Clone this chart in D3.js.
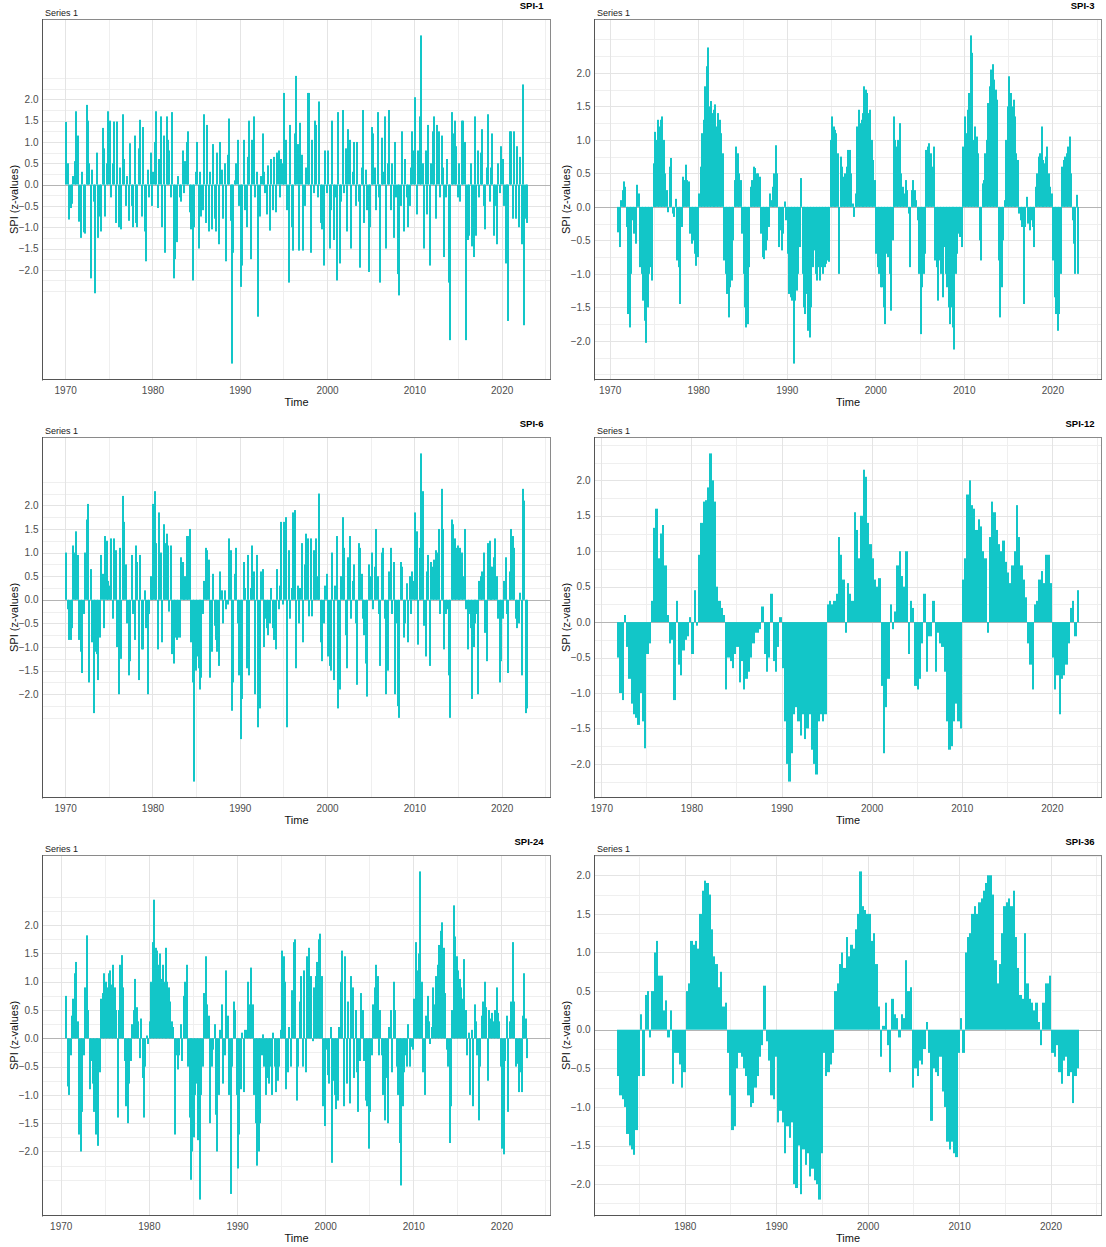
<!DOCTYPE html>
<html>
<head>
<meta charset="utf-8">
<script src="https://cdnjs.cloudflare.com/ajax/libs/d3/7.8.5/d3.min.js"></script>
<style>
  body { margin: 0; background: #fff; }
  svg text { font-family: "Liberation Sans", Arial, sans-serif; }
</style>
</head>
<body>
<div id="chart"></div>
<script>
const seriesLabel = "Series 1";
const xTitle = "Time";
const yTitle = "SPI (z-values)";
const yTickValues = [-2, -1.5, -1, -0.5, 0, 0.5, 1, 1.5, 2];
const xTickValues = [1970, 1980, 1990, 2000, 2010, 2020];

// SPI-1, two-month steps from Jan 1970
const spi1Start = 1970;
const spi1PerYear = 6;
const spi1Values = [
  1.47, 0.5, -0.82, -0.55, -0.45, 0.2,
  0.55, 1.72, 1.15, -0.87, -1.25, 0.3,
  -1.12, -1.15, 1.87, 1.5, 0.5, -2.2,
  0.35, -0.4, -2.55, 0.75, -1.25, -0.75,
  -1.1, 1.33, 0.85, -0.75, 0.5, 1.72,
  1.5, -0.3, 0.5, 1.48, -0.9, 1.48,
  -1.0, 0.4, -1.05, 1.65, 0.6, -0.5,
  0.2, -0.85, 0.97, -0.5, -1.0, 1.15,
  -0.9, -1.0, 0.85, 1.52, -0.75, 1.35,
  -1.1, -1.8, 0.35, -0.3, 0.75, -0.5,
  0.3, 1.0, 1.72, -0.55, 0.6, 1.6,
  -1.0, 1.15, -1.6, 1.6, 1.05, 0.8,
  -0.3, 1.7, -2.2, -1.75, -1.35, 0.2,
  -0.3, -0.4, 0.8, -0.2, 0.55, 1.0,
  1.25, -0.65, -1.05, -2.25, -1.0, 0.3,
  1.0, -1.5, 0.3, -0.75, -0.6, 1.65,
  -0.9, 1.4, -1.1, 0.3, -1.05, 0.95,
  -0.8, -1.1, 0.75, -1.4, 1.0, 0.35,
  -0.8, 0.5, -1.8, 0.7, 1.55, -0.85,
  -4.2, -1.6, 0.1, 0.5, 1.05, -0.5,
  -2.4, -1.9, 1.05, -0.6, -1.0, 0.65,
  1.5, -1.75, 1.05, 1.6, -0.3, 0.3,
  -3.1, -0.75, 0.2, 1.2, 0.3, -0.2,
  -0.7, 0.45, -1.08, 0.6, -0.6, 0.65,
  -0.65, 0.75, 0.8, -0.3, 0.6, 0.5,
  2.15, 1.05, -0.6, -2.3, 1.4, -1.0,
  -1.55, 1.2, 2.55, 0.95, -1.55, 1.45,
  0.7, -1.55, -0.5, 0.4, 2.15, 2.15,
  -1.6, 1.05, -0.2, 1.5, 1.4, -0.3,
  1.95, -0.9, -1.05, -1.9, 0.8, -0.2,
  0.8, -1.5, -0.6, 1.5, -1.3, -0.3,
  -2.25, 1.7, -1.85, -0.4, 1.75, -0.2,
  0.85, -1.1, 1.3, 1.05, -1.5, 0.3,
  1.0, -0.5, 1.0, -0.4, -1.95, 0.4,
  1.75, -0.9, 0.35, -0.6, -2.05, -1.0,
  1.35, 1.2, 0.4, -0.6, 1.7, -0.3,
  -2.3, 1.1, 0.3, 1.6, -1.5, 0.5,
  1.75, -0.6, 0.5, -1.25, 1.0, -0.3,
  -2.1, -2.6, -0.5, 1.25, -1.1, 0.6,
  -0.3, -1.0, -0.5, 0.4, 1.25, 0.8,
  2.05, -0.7, 0.8, 1.6, 3.5, 0.5,
  -1.5, 0.8, -0.7, 1.4, -1.9, 0.5,
  1.25, 1.6, -0.8, 1.4, 1.25, -0.3,
  1.15, 0.4, -1.7, -0.3, 0.6, -2.3,
  -3.65, 1.7, 1.2, 1.5, 0.9, -0.3,
  0.5, -0.4, 1.5, 1.5, 1.0, -3.65,
  -1.3, -1.2, 0.5, -1.45, -1.7, 1.6,
  -1.2, 0.8, -0.3, 0.75, 1.3, -0.5,
  -1.05, 0.4, 1.65, -0.4, 0.4, 1.2,
  -1.2, -0.5, -1.4, 0.5, -0.2, 0.9,
  0.6, -0.5, -1.85, -0.6, -3.2, 1.25,
  1.25, -0.8, 1.25, -0.8, 0.9, -1.0,
  0.65, -1.4, 2.35, -3.3, -0.8, -0.9
];

// SPI-3, two-month steps from Nov 1970
const spi3Start = 1970 + 10 / 12;
const spi3PerYear = 6;
const spi3Values = [
  -0.38,
  -0.6, 0.1, 0.25, 0.38, 0.3, -0.3,
  -1.6, -1.8, -1.0, -0.2, -0.4, -0.55,
  0.33, 0.2, -0.9, -1.0, -1.4, -1.7,
  -2.03, -1.5, -1.0, -0.9, -1.1, 0.65,
  1.12, 1.0, 1.3, 1.2, 1.3, 1.35,
  1.0, 0.5, 0.25, -0.08, 0.6, 0.73,
  -0.1, -0.15, 0.12, -0.8, -0.9, -1.45,
  -0.3, 0.45, 0.4, 0.63, 0.4, 0.38,
  -0.4, -0.55, -0.5, -0.7, -0.88, -0.75,
  0.2, 0.6, 1.1, 1.3, 1.8, 2.1,
  2.38, 1.5, 1.58, 1.4, 1.45, 1.53,
  1.2, 1.4, 1.3, 1.1, 0.8, -0.8,
  -1.0, -1.3, -1.65, -1.2, -1.1, -0.5,
  0.4, 0.9, 0.8, 0.5, 0.4, -0.4,
  -1.0, -1.5, -1.8, -1.75, -0.9, 0.3,
  0.4, 0.6, 0.58, 0.5, 0.5, 0.45,
  -0.4, -0.75, -0.78, -0.65, -0.5, -0.3,
  0.2, 0.1, 0.3, 0.5, 0.92, 0.5,
  -0.6, -0.35, -0.65, -0.4, 0.08, -0.2,
  -0.7, -1.3, -1.35, -1.4, -2.34, -1.4,
  -1.25, -1.0, -0.6, 0.43, -1.0, -1.5,
  -1.6, -1.3, -1.85, -1.95, -1.5, -0.9,
  -0.65, -1.0, -1.1, -0.9, -1.1, -0.9,
  -1.0, -0.9, -0.85, -0.8, -0.82, 1.0,
  1.35, 1.2, 1.15, 1.1, 0.8, -1.0,
  0.75, 0.6, 0.45, 0.5, 0.6, 0.85,
  0.85, 0.5, 0.05, -0.15, 0.2, 1.2,
  1.45, 1.25, 1.3, 1.4, 1.8, 1.75,
  1.7, 1.4, 1.45, 1.0, 0.7, 0.4,
  -0.7, -0.9, -1.0, -1.2, -1.2, -1.5,
  -1.75, -0.7, -0.75, -1.0, -1.55, -0.5,
  1.35, 1.0, 0.9, 1.0, 1.25, 0.5,
  0.3, 0.2, 0.4, 0.25, -0.1, -0.9,
  0.25, 0.4, 0.25, 0.1, -0.2, -1.0,
  -1.9, -1.2, -1.0, -0.7, 0.85, 0.9,
  0.95, 0.8, 0.6, 0.9, -0.8, -0.9,
  -1.4, -0.8, -1.0, -1.35, -0.6, -1.0,
  -1.2, -1.5, -1.75, -1.5, -1.8, -2.13,
  -1.0, -0.7, -0.4, -0.45, -0.6, 0.9,
  1.35, 1.1, 1.45, 1.7, 2.56, 2.3,
  1.0, 1.2, 1.05, 0.8, -0.5, -0.8,
  0.35, 0.4, 0.8, 1.0, 1.55, 1.8,
  2.05, 2.13, 1.9, 1.75, 1.6, -0.8,
  -1.65, -1.2, -0.5, 0.1, 1.0, 1.5,
  1.95, 1.7, 1.5, 1.6, 1.35, 0.8,
  0.7, -0.1, -0.2, -0.3, -1.45, -0.3,
  0.15, -0.25, -0.35, -0.2, -0.3, -0.6,
  0.3, 0.5, 0.75, 0.8, 1.2, 0.7,
  0.65, 0.75, 0.9, 0.5, 0.3, 0.2,
  -0.8, -1.35, -1.6, -1.85, -1.6, -1.0,
  0.6, 0.7, 0.75, 0.8, 0.9, 1.05,
  0.5, -0.2, -0.55, -1.0, 0.18, -1.0
];

// SPI-6, two-month steps from Jan 1970
const spi6Start = 1970;
const spi6PerYear = 6;
const spi6Values = [
  1.0, -0.2, -0.85, -0.85, -0.6, 1.15,
  1.0, 1.45, 0.95, -0.85, -1.1, -1.55,
  -0.3, 1.0, 1.7, 2.03, -1.75, 0.65,
  -0.9, -2.4, -1.1, -1.15, -1.7, -0.8,
  0.95, 0.55, -0.6, 1.35, 1.25, 0.4,
  0.3, 1.3, -0.4, 1.3, 1.05, -1.0,
  -2.0, 1.1, -1.25, 2.2, 1.65, 0.75,
  -0.5, -1.6, -1.3, 0.95, -0.3, -0.85,
  1.15, 0.8, -1.7, 0.95, -1.05, -1.05,
  0.2, -0.6, -2.0, -0.3, 0.5, 0.25,
  2.03, 2.3, 1.2, -1.05, 1.85, 1.0,
  -0.9, 1.6, 1.2, 1.4, 1.15, -0.25,
  1.15, -1.15, -1.35, -0.8, -0.85, -0.8,
  -0.8, 0.9, 0.8, 0.1, 0.5, 1.35,
  1.35, 1.5, -0.9, -1.75, -3.85, -1.5,
  -1.2, -1.45, -1.9, -1.65, -0.3, 0.4,
  1.1, 1.05, 0.85, -1.65, -1.1, 0.55,
  -0.55, -0.85, -1.1, -1.4, 0.6, 0.2,
  -0.5, 0.2, -0.2, -0.1, 1.3, 1.05,
  -2.35, -1.75, 0.55, 1.1, -0.5, -1.6,
  -2.95, -2.1, 0.8, 0.25, -1.45, 0.95,
  -1.6, 0.25, 1.15, 0.6, -2.0, 0.95,
  -2.7, -2.3, 0.6, 0.65, -1.0, -0.4,
  -0.6, -0.75, -0.5, 0.25, -0.6, -0.85,
  -1.05, 0.65, -0.2, 0.3, 1.65, -0.1,
  1.65, 1.75, -2.7, 1.05, -0.4, 0.25,
  1.85, 1.9, -1.45, 0.3, -0.5, 0.25,
  1.2, -0.9, 0.75, 1.4, 1.3, -0.35,
  1.3, -0.35, 1.05, 0.9, 1.3, 0.5,
  2.25, -0.9, -1.3, -0.5, 0.3, 0.55,
  -1.2, -1.4, -1.5, 1.0, -1.7, 0.3,
  1.35, -2.3, -1.9, 0.5, 1.75, 1.1,
  -0.75, -1.45, 0.9, 1.35, -0.4, 0.4,
  0.75, -0.5, -1.8, 1.2, 1.1, 0.55,
  -0.4, -0.75, -1.35, -2.05, 0.75, 0.5,
  1.0, -0.2, 0.7, 1.5, 0.5, -0.3,
  -1.4, 1.0, 1.1, -0.4, -2.0, -1.5,
  0.6, 1.1, -0.3, 0.8, -2.0, -0.5,
  -2.25, -2.5, 0.8, 0.7, -0.8, -0.5,
  0.35, -0.9, 0.5, -0.3, 0.6, 0.4,
  1.85, 1.45, -0.95, 1.1, 3.1, 2.3,
  -0.55, -1.2, 0.6, 0.95, -1.4, 0.8,
  0.7, 0.85, 1.05, 1.0, 1.5, -0.3,
  2.35, 1.5, -1.05, -0.3, -0.2, -1.6,
  -2.5, 1.7, 1.6, 1.3, 1.1, 1.15,
  1.0, 1.1, 1.0, 0.5, 1.5, -0.2,
  -1.05, -0.3, -0.6, -2.1, -1.0, -0.5,
  -0.3, -2.0, 0.4, 0.5, 0.6, 1.0,
  -0.7, -1.3, 1.2, 1.25, 0.7, 0.7,
  0.9, 1.3, 0.5, -0.4, -1.75, -1.3,
  -0.4, 0.4, 0.9, -0.3, -1.55, 0.6,
  1.5, 1.35, 1.1, -0.4, -0.6, -0.5,
  0.15, -1.6, 2.35, 2.1, -2.4, -2.3
];

// SPI-12, quarterly steps from Oct 1971
const spi12Start = 1971.75;
const spi12PerYear = 4;
const spi12Values = [
  -0.5,
  -1.0, -1.1, 0.1, -0.35,
  -0.8, -1.15, -1.3, -1.35,
  -1.45, -1.0, -1.4, -1.78,
  -0.45, -0.3, 0.3, 1.33,
  1.6, 0.9, 1.25, 1.37,
  0.8, 0.1, -0.3, -0.25,
  -1.1, 0.3, -0.6, -0.75,
  -0.4, -0.25, -0.2, 0.07,
  -0.45, 0.45, -0.05, 0.95,
  1.4, 1.7, 1.72, 1.9,
  2.38, 2.0, 1.7, 0.5,
  0.3, 0.2, 0.1, -0.95,
  -0.5, -0.55, -0.65, -0.45,
  -0.35, -0.85, -0.55, -0.95,
  -0.8, -0.7, -0.5, -0.3,
  -0.15, -0.15, -0.1, 0.22,
  -0.45, -0.7, -0.5, 0.4,
  -0.55, -0.7, -0.35, 0.07,
  -0.65, -1.4, -2.0, -2.25,
  -1.85, -1.3, -1.2, -1.4,
  -1.6, -1.3, -1.65, -1.5,
  -1.3, -1.8, -2.0, -2.15,
  -1.4, -1.3, -1.4, -1.3,
  0.25, 0.3, 0.25, 0.3,
  0.4, 1.2, 0.95, 0.6,
  -0.15, 0.55, 0.4, 0.3,
  1.55, 1.3, 0.9, 1.5,
  2.15, 2.05, 1.4, 1.1,
  0.9, 0.6, 0.5, 0.62,
  -0.9, -1.85, -1.2, -0.8,
  0.25, -0.1, 0.15, 0.8,
  1.0, 0.65, 0.5, 1.0,
  -0.45, 0.3, 0.2, -0.9,
  -0.95, -0.8, -0.3, 0.4,
  -0.7, -0.2, -0.2, 0.3,
  -0.7, -0.15, -0.3, -0.35,
  -0.7, -1.4, -1.8, -1.75,
  -1.4, -1.15, -1.4, -1.5,
  0.6, 0.9, 1.8, 2.0,
  1.65, 1.6, 1.3, 1.45,
  1.35, 1.0, 0.9, -0.15,
  1.2, 1.7, 1.55, 1.3,
  1.1, 1.0, 1.15, 0.85,
  0.7, 0.55, 0.8, 1.0,
  1.65, 1.2, 0.8, 0.6,
  0.35, -0.3, -0.6, -0.95,
  0.25, 0.3, 0.6, 0.72,
  0.55, 0.95, 0.95, 0.55,
  -0.5, -0.95, -0.75, -1.3,
  -0.8, -0.75, -0.6, -0.3,
  0.2, 0.3, -0.2, 0.45
];

// SPI-24, two-month steps from Jul 1970
const spi24Start = 1970.5;
const spi24PerYear = 6;
const spi24Values = [
  0.75, -0.85, -1.0,
  -0.3, 0.4, 0.7, 1.15, 1.35, 0.3,
  -1.7, -2.0, -1.3, -0.3, 0.9, 1.82,
  0.5, -0.9, -0.4, -0.8, -1.3, -1.7,
  -1.5, -1.9, -0.6, 0.7, 0.8, 1.15,
  1.0, 0.9, 1.15, 1.2, 0.95, 1.3,
  0.9, 0.5, -1.4, 0.5, 1.3, 1.47,
  0.9, -0.4, -1.2, -1.5, -0.8, -0.4,
  0.25, 0.5, 1.05, 0.55, 0.3, -0.35,
  0.35, -0.7, -1.4, -0.5, 0.05, -0.1,
  0.3, 1.0, 1.7, 2.45, 1.6, 1.55,
  1.3, 1.5, 1.05, 1.3, 1.0, 1.6,
  1.0, 0.9, 0.65, 0.3, 0.2, -1.7,
  -0.3, -0.55, -0.3, 0.25, -0.4, 0.75,
  1.0, 1.3, -0.5, -1.4, -2.5, -2.0,
  -1.75, -1.0, -0.8, -1.8, -2.85, -1.0,
  -0.5, 0.8, 1.45, 0.6, 0.4, -1.5,
  -0.5, -0.2, 0.25, -1.35, -2.0, -1.0,
  0.15, 0.6, -0.8, -0.3, 1.2, 0.4,
  -1.0, -2.75, -0.5, 0.65, 0.5, -1.0,
  -2.3, -1.7, -0.9, 0.1, -0.95, 0.15,
  0.15, 1.0, 0.6, 1.25, 0.6, -1.0,
  -1.5, -2.25, -2.0, -1.5, -0.3, 0.07,
  -0.5, -1.0, -0.7, -0.8, -0.5, -1.0,
  0.1, -0.5, -0.95, -0.75, -0.5, 0.15,
  1.55, 1.45, 1.0, -0.9, -0.6, 0.2,
  -0.5, 0.85, 1.7, 1.75, -1.1, -0.5,
  0.65, 1.1, -0.5, 1.2, -0.6, 1.45,
  1.6, 0.9, 1.1, -0.05, 0.9, 1.1,
  1.35, 1.75, 1.85, 1.1, -1.2, -1.55,
  -0.2, -0.65, -0.8, 0.2, -2.2, -0.75,
  -1.0, -1.25, -1.1, 0.2, 1.0, 1.55,
  -1.2, 1.45, -0.8, 0.65, -1.15, 1.1,
  0.9, -0.7, 0.5, -0.6, -1.3, -0.4,
  0.8, 0.5, -0.4, -1.1, -1.2, -1.95,
  -1.3, -0.3, 0.6, 0.9, 1.3, 1.1,
  -0.3, 0.5, -0.3, -1.0, -1.45, -0.7,
  -1.5, 0.2, 0.5, -0.6, 1.0, 0.5,
  -0.5, -1.0, -1.85, -2.6, -1.2, -0.6,
  -0.3, -0.5, 0.25, -0.5, -0.15, -0.2,
  0.7, 1.7, 1.2, 1.5, 2.95, 1.0,
  -0.6, -1.0, 0.4, 0.75, 0.3, -0.1,
  0.2, 0.9, 0.6, 1.1, 1.3, 1.65,
  1.9, 2.05, 1.6, 0.8, -0.2, -0.5,
  -1.85, -1.2, 0.5, 2.35, 1.8, 1.45,
  1.2, 1.05, 0.9, 0.7, 1.4, 0.5,
  -0.3, 0.1, -1.0, 0.15, -1.2, 0.6,
  0.3, -0.3, -1.45, -0.5, 0.4, 0.65,
  1.0, 0.55, -0.75, 0.5, 0.35, 0.45,
  0.3, 0.5, 0.9, 0.45, 0.3, -0.5,
  -1.95, -2.05, -0.4, 0.4, -1.3, 0.3,
  0.65, 1.7, 0.65, -0.5, -0.45, -0.95,
  -0.6, -0.95, 0.4, 1.15, 0.35, -0.35
];

// SPI-36, quarterly steps from Aug 1972
const spi36Start = 1972.6;
const spi36PerYear = 4;
const spi36Values = [
  -0.6, -0.85,
  -0.9, -1.0, -1.35, -1.5,
  -1.55, -1.62, -1.3, -0.6,
  0.2, -0.6, 0.45, 0.5,
  -0.1, 0.5, 1.0, 1.15,
  0.7, 0.7, 0.25, 0.38,
  -0.1, 0.25, -0.7, -0.3,
  -0.3, -0.45, -0.75, -0.55,
  0.5, 0.6, 1.15, 1.1,
  1.15, 1.05, 1.5, 1.8,
  1.93, 1.9, 1.75, 1.3,
  0.95, 0.85, 0.55, 0.75,
  0.3, 0.35, -0.3, -0.85,
  -1.3, -1.25, -0.5, -0.3,
  -0.35, -0.5, -0.6, -0.85,
  -1.0, -0.95, -0.75, -0.6,
  -0.35, -0.2, 0.57, -0.15,
  -0.4, -0.85, -0.9, -0.35,
  -1.2, -1.05, -1.2, -1.6,
  -1.25, -1.4, -1.2, -2.0,
  -2.05, -1.5, -2.13, -1.55,
  -1.75, -1.6, -1.9, -1.8,
  -1.95, -2.0, -2.2, -1.6,
  -0.3, -0.6, -0.55, -0.45,
  -0.3, 0.5, 0.6, 0.85,
  1.0, 0.8, 1.2, 0.95,
  1.1, 1.05, 1.3, 1.5,
  2.05, 1.6, 1.55, 1.5,
  1.5, 1.15, 1.25, 0.85,
  0.3, -0.35, 0.05, 0.35,
  -0.2, -0.55, 0.4, 0.2,
  0.15, -0.1, 0.2, 0.15,
  0.9, 0.5, 0.55, -0.75,
  -0.5, -0.6, -0.4, -0.45,
  -0.25, 0.1, -0.3, -1.18,
  -0.5, -0.55, -0.6, -0.35,
  -0.8, -1.0, -1.45, -1.55,
  -1.45, -1.6, -1.65, -0.3,
  0.15, -0.3, 1.0, 1.2,
  1.25, 1.5, 1.6, 1.5,
  1.65, 1.7, 1.8, 1.9,
  2.0, 2.0, 1.75, 0.9,
  0.6, 0.85, 1.25, 1.6,
  1.65, 1.7, 1.6, 1.8,
  1.2, 0.8, 0.45, 0.4,
  1.25, 0.6, 0.4, 0.35,
  0.25, 0.35, 0.1, -0.2,
  0.35, 0.6, 0.6, 0.7,
  -0.3, -0.35, -0.2, -0.55,
  -0.7, -0.4, -0.35, -0.6,
  -0.55, -0.95, -0.6, -0.5
];

var panels = [
  { name: "SPI-1", start: spi1Start, perYear: spi1PerYear, values: spi1Values, left: 42, top: 19, width: 509 },
  { name: "SPI-3", start: spi3Start, perYear: spi3PerYear, values: spi3Values, left: 594, top: 19, width: 508 },
  { name: "SPI-6", start: spi6Start, perYear: spi6PerYear, values: spi6Values, left: 42, top: 437, width: 509 },
  { name: "SPI-12", start: spi12Start, perYear: spi12PerYear, values: spi12Values, left: 594, top: 437, width: 508 },
  { name: "SPI-24", start: spi24Start, perYear: spi24PerYear, values: spi24Values, left: 42, top: 855, width: 509 },
  { name: "SPI-36", start: spi36Start, perYear: spi36PerYear, values: spi36Values, left: 594, top: 855, width: 508 }
];

var panelHeight = 361;
var barColor = "#12c6c8";

function charts() {
  var svg = d3
    .select("#chart")
    .append("svg")
    .attr("width", 1106)
    .attr("height", 1247);

  svg.append("rect").attr("width", 1106).attr("height", 1247).attr("fill", "#fff");

  panels.forEach(function (p) {
    drawPanel(svg, p);
  });
}

function drawPanel(svg, p) {
  var height = panelHeight;
  var step = 1 / p.perYear;
  var bars = p.values.map((v, i) => ({ t: p.start + i * step, v: v }));

  var tMin = p.start,
    tMax = p.start + p.values.length * step;
  var tPad = (tMax - tMin) * 0.05;
  var vMin = d3.min(p.values),
    vMax = d3.max(p.values);
  var vPad = (vMax - vMin) * 0.05;

  var x = d3.scaleLinear().domain([tMin - tPad, tMax + tPad]).range([0, p.width]);
  var y = d3.scaleLinear().domain([vMin - vPad, vMax + vPad]).range([height, 0]);

  var g = svg.append("g").attr("transform", "translate(" + p.left + "," + p.top + ")");

  var inX = (d) => d >= x.domain()[0] && d <= x.domain()[1];
  var inY = (d) => d >= y.domain()[0] && d <= y.domain()[1];

  var xMajor = xTickValues.filter(inX);
  var xMinor = d3.range(1960, 2031, 5).filter((d) => xTickValues.indexOf(d) < 0).filter(inX);
  var yMinor = d3.range(-10, 11).map((d) => d / 4).filter((d) => yTickValues.indexOf(d) < 0).filter(inY);

  // grid lines
  g.selectAll("line.xminor")
    .data(xMinor)
    .enter()
    .append("line")
    .attr("x1", (d) => Math.round(x(d)) + 0.5)
    .attr("x2", (d) => Math.round(x(d)) + 0.5)
    .attr("y1", 0)
    .attr("y2", height)
    .attr("stroke", "#efefef");

  g.selectAll("line.yminor")
    .data(yMinor)
    .enter()
    .append("line")
    .attr("x1", 0)
    .attr("x2", p.width)
    .attr("y1", (d) => Math.round(y(d)) + 0.5)
    .attr("y2", (d) => Math.round(y(d)) + 0.5)
    .attr("stroke", "#efefef");

  g.selectAll("line.xmajor")
    .data(xMajor)
    .enter()
    .append("line")
    .attr("x1", (d) => Math.round(x(d)) + 0.5)
    .attr("x2", (d) => Math.round(x(d)) + 0.5)
    .attr("y1", 0)
    .attr("y2", height)
    .attr("stroke", "#e4e4e4");

  g.selectAll("line.ymajor")
    .data(yTickValues)
    .enter()
    .append("line")
    .attr("x1", 0)
    .attr("x2", p.width)
    .attr("y1", (d) => Math.round(y(d)) + 0.5)
    .attr("y2", (d) => Math.round(y(d)) + 0.5)
    .attr("stroke", "#e4e4e4");

  // zero line
  g.append("line")
    .attr("x1", 0)
    .attr("x2", p.width)
    .attr("y1", Math.round(y(0)) + 0.5)
    .attr("y2", Math.round(y(0)) + 0.5)
    .attr("stroke", "#b4b4b4");

  // bars, snapped to whole pixels so neighbours join without seams
  g.selectAll("rect.bar")
    .data(bars)
    .enter()
    .append("rect")
    .attr("class", "bar")
    .attr("x", (d) => Math.round(x(d.t)))
    .attr("width", (d) => Math.max(2, Math.round(x(d.t + step)) - Math.round(x(d.t))))
    .attr("y", (d) => Math.min(y(d.v), y(0)))
    .attr("height", (d) => Math.abs(y(d.v) - y(0)))
    .attr("fill", barColor);

  // border
  g.append("rect")
    .attr("x", 0.5)
    .attr("y", 0.5)
    .attr("width", p.width - 1)
    .attr("height", height - 1)
    .attr("fill", "none")
    .attr("stroke", "#8a8a8a");

  g.append("line").attr("x1", 0.5).attr("x2", 0.5).attr("y1", 0).attr("y2", height + 0.5).attr("stroke", "#555");
  g.append("line").attr("x1", 0).attr("x2", p.width).attr("y1", height - 0.5).attr("y2", height - 0.5).attr("stroke", "#555");

  // axes
  var xAxis = g
    .append("g")
    .attr("transform", "translate(0," + height + ")")
    .call(d3.axisBottom(x).tickValues(xMajor).tickFormat(d3.format("d")).tickSize(0).tickPadding(6.5));

  var yAxis = g
    .append("g")
    .call(d3.axisLeft(y).tickValues(yTickValues).tickFormat(d3.format(".1f")).tickSize(0).tickPadding(3.5));

  [xAxis, yAxis].forEach(function (a) {
    a.select(".domain").remove();
    a.selectAll("text")
      .attr("fill", "#4d4d4d")
      .style("font-size", "10px")
      .style("font-family", "'Liberation Sans', Arial, sans-serif");
  });

  // titles
  g.append("text")
    .attr("x", p.width / 2)
    .attr("y", height + 25.5)
    .attr("text-anchor", "middle")
    .style("font-size", "11px")
    .attr("fill", "#111")
    .text(xTitle);

  g.append("text")
    .attr("transform", "translate(-24," + height / 2 + ") rotate(-90)")
    .attr("text-anchor", "middle")
    .style("font-size", "11px")
    .attr("fill", "#111")
    .text(yTitle);

  g.append("text")
    .attr("x", 3)
    .attr("y", -3.5)
    .style("font-size", "9px")
    .attr("fill", "#222")
    .text(seriesLabel);

  g.append("text")
    .attr("x", p.width - 7.5)
    .attr("y", -10)
    .attr("text-anchor", "end")
    .style("font-size", "9.5px")
    .style("font-weight", "bold")
    .attr("fill", "#000")
    .text(p.name);
}

charts();
</script>
</body>
</html>
